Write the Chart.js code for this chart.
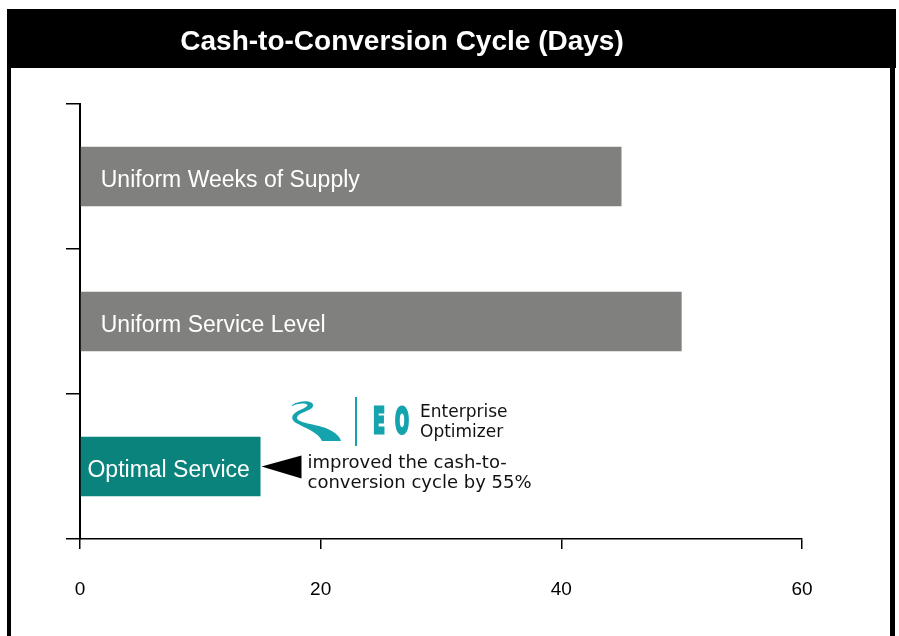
<!DOCTYPE html>
<html>
<head>
<meta charset="utf-8">
<script src="https://cdn.jsdelivr.net/npm/chart.js@4.4.1/dist/chart.umd.min.js"></script>
<style>
  html, body { margin: 0; padding: 0; background: #fff; }
  #wrap { width: 899px; height: 636px; position: relative; }
</style>
</head>
<body>
<div id="wrap"><canvas id="cccChart" width="899" height="636"></canvas></div>
<script>
// Datos del gráfico
const titleText = 'Cash-to-Conversion Cycle (Days)';
const categories = ['Uniform Weeks of Supply', 'Uniform Service Level', 'Optimal Service'];
const days = [45, 50, 15];
const barColors = ['#80807e', '#80807e', '#0a837d'];
const xTicks = [0, 20, 40, 60];
const calloutLines = ['improved the cash-to-', 'conversion cycle by 55%'];

const FONT = '"Liberation Sans", Arial, Helvetica, sans-serif';
const FONT2 = '"DejaVu Sans", Verdana, sans-serif';
const LOGO_TEAL = '#15a4ae';

// Marco negro y banda del título
const framePlugin = {
    id: 'frame',
    beforeDraw(chart) {
        const c = chart.ctx;
        c.save();
        c.fillStyle = '#fff';
        c.fillRect(0, 0, chart.width, chart.height);
        c.fillStyle = '#000';
        c.fillRect(7, 9, 889, 59);      // banda del título
        c.fillRect(7, 68, 4, 568);      // borde izquierdo
        c.fillRect(890, 68, 5, 568);    // borde derecho
        c.fillStyle = '#fff';
        c.font = 'bold 28px ' + FONT;
        c.textAlign = 'center';
        c.textBaseline = 'middle';
        c.fillText(titleText, 402, 42);
        c.restore();
    }
};

// dibuja una letra ajustada a un ancho dado (fuente condensada y gruesa)
function drawFitted(c, ch, x, y, w) {
    const mw = c.measureText(ch).width;
    c.save();
    c.translate(x, y);
    c.scale(w / mw, 1);
    c.fillText(ch, 0, 0);
    c.strokeText(ch, 0, 0);
    c.restore();
}

// Etiquetas dentro de las barras + anotación con logo
const labelPlugin = {
    id: 'barLabels',
    afterDatasetsDraw(chart) {
        const c = chart.ctx;
        const meta = chart.getDatasetMeta(0);
        c.save();
        c.font = '23px ' + FONT;
        c.fillStyle = '#fff';
        c.textBaseline = 'middle';
        meta.data.forEach((bar, i) => {
            const text = categories[i];
            const w = c.measureText(text).width;
            const barW = bar.x - bar.base;
            if (w + 40 > barW) {
                c.textAlign = 'center';
                c.fillText(text, (bar.x + bar.base) / 2 - 2, bar.y + 4);
            } else {
                c.textAlign = 'left';
                c.fillText(text, bar.base + 20, bar.y + 4);
            }
        });

        // flecha apuntando al final de la barra "Optimal Service"
        const opt = meta.data[2];
        const tipX = opt.x + 1;
        const y = opt.y;
        c.fillStyle = '#000';
        c.beginPath();
        c.moveTo(tipX, y);
        c.lineTo(tipX + 40, y - 11);
        c.lineTo(tipX + 40, y + 12);
        c.closePath();
        c.fill();

        c.font = '18px ' + FONT2;
        c.textAlign = 'left';
        c.fillStyle = '#111';
        c.fillText(calloutLines[0], tipX + 46, y - 3);
        c.fillText(calloutLines[1], tipX + 46, y + 17);

        // logo EO
        c.fillStyle = LOGO_TEAL;
        c.beginPath();
        c.moveTo(292, 405);
        c.bezierCurveTo(300, 400, 314, 400, 313, 406);
        c.bezierCurveTo(312, 411, 298, 412, 297, 418);
        c.bezierCurveTo(298, 424, 320, 424, 330, 430);
        c.bezierCurveTo(336, 433, 340, 437, 341, 441);
        c.lineTo(322, 441);
        c.bezierCurveTo(318, 432, 305, 428, 296, 423);
        c.bezierCurveTo(290, 419, 291, 414, 300, 410);
        c.bezierCurveTo(307, 407, 309, 405, 306, 404);
        c.bezierCurveTo(302, 403, 296, 404, 292, 406);
        c.closePath();
        c.fill();
        c.fillRect(355, 397, 2, 49);

        c.font = 'bold 36px ' + FONT2;
        c.textBaseline = 'alphabetic';
        c.strokeStyle = LOGO_TEAL;
        c.lineWidth = 3;
        c.lineJoin = 'miter';
        drawFitted(c, 'E', 373, 433, 12);
        drawFitted(c, 'O', 395, 433, 14);

        c.fillStyle = '#111';
        c.font = '17px ' + FONT2;
        c.fillText('Enterprise', 420, 417);
        c.fillText('Optimizer', 420, 437);
        c.restore();
    }
};

const ctx = document.getElementById('cccChart').getContext('2d');
const cccChart = new Chart(ctx, {
    type: 'bar',
    data: {
        labels: categories,
        datasets: [{
            data: days,
            backgroundColor: barColors,
            borderWidth: 0,
            barPercentage: 1,
            categoryPercentage: 0.41
        }]
    },
    options: {
        indexAxis: 'y',
        responsive: false,
        animation: false,
        layout: {
            padding: { top: 104, left: 66, right: 97, bottom: 36 }
        },
        scales: {
            x: {
                min: 0,
                max: 60,
                afterBuildTicks(scale) {
                    scale.ticks = xTicks.map(v => ({ value: v }));
                },
                afterFit(scale) { scale.height = 61; },
                grid: {
                    drawOnChartArea: false,
                    tickLength: 10,
                    color: '#000',
                    lineWidth: 1.5
                },
                border: { display: true, color: '#000', width: 1.5 },
                ticks: {
                    padding: 29,
                    color: '#000',
                    font: { family: FONT, size: 19 }
                }
            },
            y: {
                offset: true,
                afterFit(scale) { scale.width = 14; },
                grid: {
                    offset: true,
                    drawOnChartArea: false,
                    tickLength: 14,
                    color: '#000',
                    lineWidth: 1.5
                },
                border: { display: true, color: '#000', width: 2 },
                ticks: { display: false }
            }
        },
        plugins: {
            legend: { display: false },
            tooltip: { enabled: false }
        }
    },
    plugins: [framePlugin, labelPlugin]
});
</script>
</body>
</html>
